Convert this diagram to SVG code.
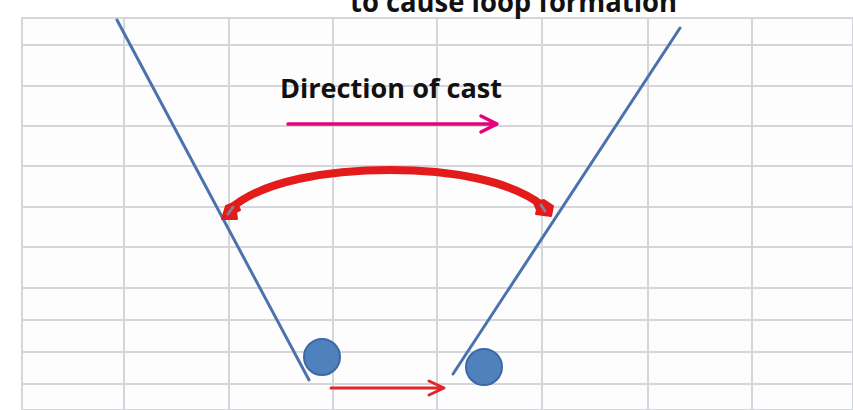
<svg xmlns="http://www.w3.org/2000/svg" width="853" height="410" viewBox="0 0 853 410">
<style>
.grid line{stroke:#d4d6da;stroke-width:2}
.rod{stroke:#4a73ad;stroke-width:3;stroke-linecap:round;fill:none}
.ball{fill:#4f81bd;stroke:#3c68a6;stroke-width:2}
.lbl{font-family:"Open Sans","Liberation Sans",sans-serif;font-weight:bold;fill:#111}
.cap{fill:#e31b1b;stroke:#e31b1b;stroke-width:2;stroke-linejoin:round}
</style>
<rect width="853" height="410" fill="#fff"/>
<g class="grid">
<rect x="22" y="18" width="831" height="392" fill="#fdfdfd" stroke="#d4d6da" stroke-width="2"/>
<line x1="124" y1="18" x2="124" y2="410"/>
<line x1="229" y1="18" x2="229" y2="410"/>
<line x1="333" y1="18" x2="333" y2="410"/>
<line x1="437" y1="18" x2="437" y2="410"/>
<line x1="542" y1="18" x2="542" y2="410"/>
<line x1="648" y1="18" x2="648" y2="410"/>
<line x1="752" y1="18" x2="752" y2="410"/>
<line x1="22" y1="45" x2="853" y2="45"/>
<line x1="22" y1="86" x2="853" y2="86"/>
<line x1="22" y1="126" x2="853" y2="126"/>
<line x1="22" y1="166" x2="853" y2="166"/>
<line x1="22" y1="207" x2="853" y2="207"/>
<line x1="22" y1="247" x2="853" y2="247"/>
<line x1="22" y1="288" x2="853" y2="288"/>
<line x1="22" y1="320" x2="853" y2="320"/>
<line x1="22" y1="352" x2="853" y2="352"/>
<line x1="22" y1="384" x2="853" y2="384"/>
</g>
<text class="lbl" x="350" y="12" font-size="28" textLength="327" lengthAdjust="spacingAndGlyphs">to cause loop formation</text>
<g id="rod-left"><line class="rod" x1="117" y1="20" x2="309" y2="380"/></g>
<g id="rod-right"><line class="rod" x1="680" y1="28" x2="453" y2="374"/></g>
<g id="ball-left"><circle class="ball" cx="322" cy="357" r="18"/></g>
<g id="ball-right"><circle class="ball" cx="484" cy="367" r="18"/></g>
<g id="label-direction"><text class="lbl" x="280" y="98" font-size="27" textLength="222" lengthAdjust="spacingAndGlyphs">Direction of cast</text></g>
<g id="connectors">
<path d="M288 124 H495 M481 116 L497 124 L481 132" fill="none" stroke="#e6007e" stroke-width="3.5" stroke-linecap="round" stroke-linejoin="round"/>
<path d="M331 388 H442 M429 381 L444 388 L429 395" fill="none" stroke="#e0252b" stroke-width="3" stroke-linecap="round" stroke-linejoin="round"/>
<path d="M229 210 C262 180 330 170 390 170 C450 170 510 180 543 206" fill="none" stroke="#e31b1b" stroke-width="8"/>
<path class="cap" d="M222 219 L226 206 L236 202 L240 210 L236 212 L237 219 Z"/>
<path class="cap" d="M551 216 L553 206 L544 200 L534 203 L537 210 L536 214 Z"/>
<path d="M228 214 L233 207" stroke="#8a7d96" stroke-width="3" stroke-linecap="round"/>
<path d="M545 211 L541 205" stroke="#8a7d96" stroke-width="3" stroke-linecap="round"/>
</g>
</svg>
